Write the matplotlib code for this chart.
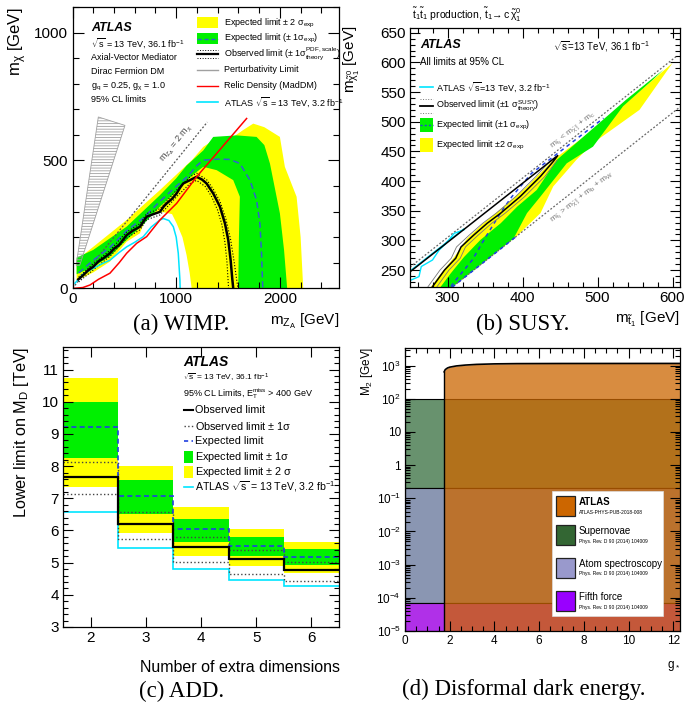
import matplotlib.pyplot as plt
from matplotlib.lines import Line2D
from matplotlib.patches import Rectangle, Polygon
from matplotlib.ticker import MultipleLocator, FixedLocator, NullFormatter

plt.rcParams['font.family'] = ['Liberation Sans', 'DejaVu Sans']
plt.rcParams['mathtext.fontset'] = 'custom'
plt.rcParams['mathtext.rm'] = 'Liberation Sans'
plt.rcParams['mathtext.it'] = 'Liberation Sans'
plt.rcParams['mathtext.bf'] = 'Liberation Sans:bold'
plt.rcParams['hatch.linewidth'] = 0.6

# ---------------- (a) WIMP, axial-vector mediator ----------------
obs_mz = [56, 100, 150, 200, 250, 300, 361, 400, 450, 522, 580, 651, 690, 715, 780, 843, 880, 908, 960, 1004,
          1040, 1068, 1133, 1197, 1250, 1293, 1357, 1422, 1470, 1502, 1525, 1540, 1550]
obs_mchi = [35, 50, 70, 84, 105, 118, 137, 155, 170, 208, 225, 241, 265, 280, 290, 299, 320, 332, 350, 371,
            395, 410, 423, 436, 425, 410, 371, 319, 254, 189, 110, 40, 0]
obsup_mz = [60, 200, 361, 522, 651, 715, 843, 1004, 1133, 1197, 1293, 1357, 1422, 1480, 1525, 1560, 1595]
obsup_mchi = [45, 95, 148, 220, 253, 292, 311, 384, 436, 450, 425, 388, 340, 270, 190, 100, 0]
obsdn_mz = [60, 200, 361, 522, 651, 715, 843, 1004, 1133, 1197, 1280, 1340, 1400, 1440, 1470, 1490, 1505]
obsdn_mchi = [25, 72, 125, 196, 229, 268, 287, 358, 410, 422, 398, 360, 305, 250, 180, 100, 0]
exp_mz = [60, 200, 361, 522, 683, 843, 1004, 1116, 1200, 1261, 1400, 1518, 1614, 1711, 1775, 1807, 1823, 1833, 1835]
exp_mchi = [60, 110, 160, 225, 275, 340, 400, 440, 480, 501, 505, 504, 488, 423, 345, 254, 137, 19, 0]
y2_mz = [40, 200, 522, 843, 1116, 1149, 1261, 1357, 1550, 1650, 1743, 1850, 2000, 2048, 2161, 2200, 2225,
         1149, 1130, 1100, 1060, 1004, 960, 870, 760, 700, 650, 522, 361, 200, 40]
y2_mchi = [110, 162, 267, 384, 488, 500, 553, 579, 592, 620, 644, 630, 592, 475, 358, 200, 0,
           0, 60, 130, 200, 254, 290, 298, 292, 265, 215, 182, 104, 62, 30]
g1_mz = [40, 200, 522, 843, 1000, 1100, 1261, 1357, 1583, 1775, 1850, 1904, 2000, 2040, 2070,
         1598, 1605, 1614, 1550, 1390, 1261, 1150, 1004, 843, 683, 522, 361, 200, 40]
g1_mchi = [120, 150, 241, 364, 430, 480, 539, 592, 598, 592, 560, 488, 293, 150, 0,
           0, 200, 358, 423, 462, 475, 440, 380, 319, 250, 189, 125, 84, 55]
old_mz = [24, 100, 200, 280, 361, 450, 522, 600, 683, 760, 843, 875, 930, 972, 1000, 1020, 1036, 1038]
old_mchi = [20, 55, 78, 95, 110, 140, 162, 180, 202, 240, 267, 273, 265, 241, 200, 137, 32, 0]
relic_mz = [20, 100, 169, 250, 361, 450, 522, 619, 715, 843, 1004, 1197, 1679]
relic_mchi = [0, 3, 13, 35, 59, 100, 137, 176, 202, 267, 332, 436, 664]
pert_mz = [35, 249, 506, 70]
pert_mchi = [90, 670, 637, 90]
diag_mz = [0, 1300]
diag_mchi = [0, 650]

# ---------------- (b) SUSY, stop -> c neutralino ----------------
b_y2_mt = [278, 291, 309, 326, 348, 375, 406, 441, 512, 600, 556, 494, 472, 441, 424, 393, 305, 270]
b_y2_mchi = [222, 244, 272, 303, 329, 357, 391, 436, 503, 599, 520, 464, 436, 391, 346, 308, 220, 185]
b_g1_mt = [291, 304, 322, 344, 371, 393, 419, 446, 538, 588, 574, 534, 494, 459, 424, 406, 388, 297, 280]
b_g1_mchi = [222, 244, 272, 301, 329, 357, 385, 436, 537, 588, 571, 526, 458, 430, 374, 346, 303, 212, 195]
b_exp_mt = [390, 300, 311, 333, 351, 373, 386, 412, 440, 508]
b_exp_mchi = [305, 215, 233, 267, 306, 351, 374, 413, 440, 506]
b_obs_mt = [250, 447, 441, 424, 397, 371, 353, 335, 318, 311, 296, 280, 275]
b_obs_mchi = [247, 443, 433, 408, 374, 346, 329, 309, 289, 270, 250, 222, 212]
b_obsup_mt = [274, 290, 305, 312, 329, 347, 365, 391, 418, 436, 444]
b_obsup_mchi = [222, 250, 270, 289, 309, 329, 346, 374, 408, 433, 441]
b_obsdn_mt = [286, 302, 317, 324, 341, 359, 377, 403, 430, 446]
b_obsdn_mchi = [222, 250, 270, 289, 309, 329, 346, 374, 408, 435]
b_old_mt = [250, 322, 322, 309, 298, 289, 280, 265, 262, 251, 250]
b_old_mchi = [248.5, 319.5, 318, 312, 295, 284, 267, 256, 239, 233, 233]
b_kin_hi_mt = [250, 605]
b_kin_hi_mchi = [255, 610]
b_kin_lo_mt = [300, 610]
b_kin_lo_mchi = [215, 525]

# ---------------- (c) ADD ----------------
n_extra = [2, 3, 4, 5, 6]
c_edges = [1.5, 2.5, 3.5, 4.5, 5.5, 6.5]
c_obs = [7.66, 6.2, 5.5, 5.1, 4.78]
c_obs_up = [8.12, 6.56, 5.8, 5.38, 5.03]
c_obs_dn = [7.12, 5.72, 5.03, 4.66, 4.44]
c_exp = [9.22, 7.06, 6.06, 5.53, 5.19]
c_exp1_up = [10.0, 7.56, 6.37, 5.81, 5.41]
c_exp1_dn = [8.25, 6.5, 5.65, 5.2, 4.94]
c_exp2_up = [10.75, 8.0, 6.72, 6.06, 5.63]
c_exp2_dn = [7.35, 5.93, 5.2, 4.88, 4.69]
c_old = [6.56, 5.47, 4.81, 4.47, 4.28]

# ---------------- (d) disformal dark energy ----------------
d_split = 1.75
d_xmax = 12.3
d_sn = [0.2, 100]
d_atom = [7.2e-5, 0.2]
d_fifth = [1e-5, 7.2e-5]
d_atlas_g = [1.75, 1.8, 1.9, 2.0, 2.3, 2.7, 3.2, 4.0, 5.0, 7.0, 12.3]
d_atlas_m = [650, 760, 850, 900, 980, 1040, 1090, 1130, 1150, 1160, 1165]
d_names = ['ATLAS', 'Supernovae', 'Atom spectroscopy', 'Fifth force']
d_refs = ['ATLAS-PHYS-PUB-2018-008', 'Phys. Rev. D 90 (2014) 104009',
          'Phys. Rev. D 90 (2014) 104009', 'Phys. Rev. D 90 (2014) 104009']
d_cols = ['#cc6600', '#336633', '#9999cc', '#9900ff']

W, H = 686, 708
fig = plt.figure(figsize=(W / 100, H / 100), dpi=100)


def box(l, t, r, b):
    return [l / W, 1 - b / H, (r - l) / W, (b - t) / H]


def fx(x):
    return x / W


def fy(y):
    return 1 - y / H


def fline(x0, x1, y, **kw):
    fig.add_artist(Line2D([fx(x0), fx(x1)], [fy(y), fy(y)], **kw))


def frect(x0, y0, x1, y1, **kw):
    fig.add_artist(Rectangle((fx(x0), fy(y1)), (x1 - x0) / W, (y1 - y0) / H,
                             transform=fig.transFigure, **kw))


def ftext(x, y, s, **kw):
    kw.setdefault('va', 'center')
    fig.text(fx(x), fy(y), s, **kw)


def root_ticks(ax, size=10, major=8, minor=4):
    ax.tick_params(which='both', direction='in', top=True, right=True, labelsize=size, width=0.8)
    ax.tick_params(which='major', length=major, pad=3)
    ax.tick_params(which='minor', length=minor)
    for s in ax.spines.values():
        s.set_linewidth(0.9)


# ======== panel (a) ========
axA = fig.add_axes(box(72.5, 7, 339, 288.3))
axA.fill(y2_mz, y2_mchi, color='#ffff00', lw=0)
axA.fill(g1_mz, g1_mchi, color='#00f000', lw=0)
axA.add_patch(Polygon(list(zip(pert_mz, pert_mchi)), closed=True, fill=False,
                      hatch='------', edgecolor='#a0a0a0', lw=0.6))
axA.plot(diag_mz, diag_mchi, color='#555555', ls=(0, (1.5, 1.5)), lw=0.9)
axA.plot(exp_mz, exp_mchi, color='#3060d0', ls=(0, (4, 2.5)), lw=1.1)
axA.plot(obsup_mz, obsup_mchi, color='k', ls=':', lw=0.8)
axA.plot(obsdn_mz, obsdn_mchi, color='k', ls=':', lw=0.8)
axA.plot(old_mz, old_mchi, color='#00e5ff', lw=1.1)
axA.plot(obs_mz, obs_mchi, color='k', lw=1.8)
axA.plot(relic_mz, relic_mchi, color='#ff0000', lw=1.1)
axA.text(1000, 567, r'm$_{Z_A}$ = 2 m$_\chi$', rotation=51, fontsize=6.5, color='#444444',
         ha='center', va='center')
axA.set_xlim(0, 2570)
axA.set_ylim(0, 1100)
axA.xaxis.set_major_locator(FixedLocator([0, 1000, 2000]))
axA.xaxis.set_minor_locator(MultipleLocator(200))
axA.yaxis.set_major_locator(FixedLocator([0, 500, 1000]))
axA.yaxis.set_minor_locator(MultipleLocator(100))
root_ticks(axA, size=11)

ftext(18, 8, r'm$_\chi$ [GeV]', rotation=90, ha='center', va='top', fontsize=12)
ftext(339, 321, r'm$_{Z_A}$ [GeV]', ha='right', fontsize=11)
ftext(91, 28, 'ATLAS', fontweight='bold', style='italic', fontsize=9)
ftext(91, 43, r'$\sqrt{s}$ = 13 TeV, 36.1 fb$^{-1}$', fontsize=6.5)
ftext(91, 57, 'Axial-Vector Mediator', fontsize=6.5)
ftext(91, 72, 'Dirac Fermion DM', fontsize=6.5)
ftext(91, 87, r'g$_q$ = 0.25, g$_\chi$ = 1.0', fontsize=6.5)
ftext(91, 100, '95% CL limits', fontsize=6.5)

frect(197, 17, 218, 28, color='#ffff00', lw=0)
ftext(224, 23, r'Expected limit $\pm$ 2 $\sigma_{\mathrm{exp}}$', fontsize=6.5)
frect(197, 33, 218, 44, color='#00f000', lw=0)
fline(197, 218, 38.5, color='#3060d0', ls=(0, (3, 2)), lw=1)
ftext(224, 38.5, r'Expected limit ($\pm$ 1$\sigma_{\mathrm{exp}}$)', fontsize=6.5)
fline(197, 218, 54, color='k', lw=1.6)
fline(197, 218, 50, color='k', ls=':', lw=0.7)
fline(197, 218, 58, color='k', ls=':', lw=0.7)
ftext(224, 54, r'Observed limit ($\pm$ 1$\sigma^{\mathrm{PDF,\,scale}}_{\mathrm{theory}}$)', fontsize=6.5)
fline(197, 218, 70, color='#a0a0a0', lw=1)
ftext(224, 70, 'Perturbativity Limit', fontsize=6.5)
fline(197, 218, 86, color='#ff0000', lw=1)
ftext(224, 86, 'Relic Density (MadDM)', fontsize=6.5)
fline(197, 218, 102, color='#00e5ff', lw=1.2)
ftext(224, 102, r'ATLAS $\sqrt{s}$ = 13 TeV, 3.2 fb$^{-1}$', fontsize=6.5)

# ======== panel (b) ========
axB = fig.add_axes(box(410, 28, 680, 286.7))
axB.fill(b_y2_mt, b_y2_mchi, color='#ffff00', lw=0)
axB.fill(b_g1_mt, b_g1_mchi, color='#00f000', lw=0)
axB.plot(b_kin_hi_mt, b_kin_hi_mchi, color='#666666', ls=(0, (1.5, 1.5)), lw=0.9)
axB.plot(b_kin_lo_mt, b_kin_lo_mchi, color='#666666', ls=(0, (1.5, 1.5)), lw=0.9)
axB.plot(b_exp_mt, b_exp_mchi, color='#2040e0', ls=(0, (2.5, 2.5)), lw=1.1)
axB.plot(b_obsup_mt, b_obsup_mchi, color='#777777', lw=0.6)
axB.plot(b_obsdn_mt, b_obsdn_mchi, color='#777777', lw=0.6)
axB.plot(b_old_mt, b_old_mchi, color='#00e5ff', lw=1.0)
axB.plot(b_obs_mt, b_obs_mchi, color='k', lw=1.1)
axB.text(467, 486, r'm$_{\tilde{t}_1}$ < m$_{\tilde{\chi}^0_1}$ + m$_c$', rotation=38, fontsize=6,
         color='#777777', ha='center', va='center')
axB.text(479, 372, r'm$_{\tilde{t}_1}$ > m$_{\tilde{\chi}^0_1}$ + m$_b$ + m$_W$', rotation=38, fontsize=6,
         color='#777777', ha='center', va='center')
axB.set_xlim(250, 610)
axB.set_ylim(222, 658)
axB.xaxis.set_major_locator(MultipleLocator(100))
axB.xaxis.set_minor_locator(MultipleLocator(20))
axB.yaxis.set_major_locator(MultipleLocator(50))
axB.yaxis.set_minor_locator(MultipleLocator(10))
root_ticks(axB, size=11, major=7, minor=3.5)

ftext(412, 15, r'$\tilde{t}_1\tilde{t}_1$ production, $\tilde{t}_1\!\rightarrow c\,\tilde{\chi}^0_1$', fontsize=7.5)
ftext(352, 26, r'm$_{\tilde{\chi}^0_1}$ [GeV]', rotation=90, ha='center', va='top', fontsize=11)
ftext(680, 319, r'm$_{\tilde{t}_1}$ [GeV]', ha='right', fontsize=11)
ftext(420, 45, 'ATLAS', fontweight='bold', style='italic', fontsize=9)
ftext(553, 47, r'$\sqrt{s}$=13 TeV, 36.1 fb$^{-1}$', fontsize=7)
ftext(420, 62, 'All limits at 95% CL', fontsize=7)
fline(420, 433, 87, color='#00e5ff', lw=1.2)
ftext(436, 87, r'ATLAS $\sqrt{s}$=13 TeV, 3.2 fb$^{-1}$', fontsize=6.5)
fline(420, 433, 106, color='k', lw=1.3)
fline(420, 433, 99, color='#777777', ls=':', lw=0.7)
fline(420, 433, 113, color='#777777', ls=':', lw=0.7)
ftext(436, 106, r'Observed limit ($\pm$1 $\sigma^{\mathrm{SUSY}}_{\mathrm{theory}}$)', fontsize=6.5)
frect(420, 118, 433, 132, color='#00f000', lw=0)
fline(420, 433, 125, color='#2040e0', ls=(0, (1.5, 1.5)), lw=1)
ftext(436, 125, r'Expected limit ($\pm$1 $\sigma_{\mathrm{exp}}$)', fontsize=6.5)
frect(420, 138, 433, 152, color='#ffff00', lw=0)
ftext(436, 145, r'Expected limit $\pm$2 $\sigma_{\mathrm{exp}}$', fontsize=6.5)

# ======== panel (c) ========
axC = fig.add_axes(box(63, 347, 339, 627))
axC.stairs(c_exp2_up, c_edges, baseline=c_exp2_dn, fill=True, color='#ffff00', lw=0)
axC.stairs(c_exp1_up, c_edges, baseline=c_exp1_dn, fill=True, color='#00f000', lw=0)
axC.stairs(c_old, c_edges, baseline=None, color='#00e5ff', lw=1.2)
axC.stairs(c_obs_up, c_edges, baseline=None, color='#444444', ls=':', lw=1.0)
axC.stairs(c_obs_dn, c_edges, baseline=None, color='#444444', ls=':', lw=1.0)
axC.stairs(c_exp, c_edges, baseline=None, color='#2040e0', ls=(0, (3, 2)), lw=1.2)
axC.stairs(c_obs, c_edges, baseline=None, color='k', lw=1.6)
axC.set_xlim(1.5, 6.5)
axC.set_ylim(3, 11.7)
axC.set_xticks(n_extra)
axC.yaxis.set_major_locator(MultipleLocator(1))
axC.yaxis.set_minor_locator(MultipleLocator(0.2))
root_ticks(axC, size=11, major=7, minor=3.5)

ftext(22, 347, r'Lower limit on M$_\mathrm{D}$ [TeV]', rotation=90, ha='center', va='top', fontsize=11.7)
ftext(340, 668, 'Number of extra dimensions', ha='right', fontsize=11.5)
ftext(183, 362, 'ATLAS', fontweight='bold', style='italic', fontsize=10)
ftext(183, 378, r'$\sqrt{s}$ = 13 TeV, 36.1 fb$^{-1}$', fontsize=6)
ftext(183, 394, r'95% CL Limits, E$_\mathrm{T}^\mathrm{miss}$ > 400 GeV', fontsize=6.5)
fline(184, 193, 410, color='k', lw=1.5)
ftext(195, 410, 'Observed limit', fontsize=7.8)
fline(184, 193, 426, color='#444444', ls=':', lw=1)
ftext(195, 426, r'Observed limit $\pm$ 1$\sigma$', fontsize=7.8)
fline(184, 193, 441, color='#2040e0', ls=(0, (2.5, 2)), lw=1.2)
ftext(195, 441, 'Expected limit', fontsize=7.8)
frect(184, 451, 193, 463, color='#00f000', lw=0)
ftext(195, 457, r'Expected limit $\pm$ 1$\sigma$', fontsize=7.8)
frect(184, 466, 193, 478, color='#ffff00', lw=0)
ftext(195, 472, r'Expected limit $\pm$ 2 $\sigma$', fontsize=7.8)
fline(184, 193, 487, color='#00e5ff', lw=1.2)
ftext(195, 487, r'ATLAS $\sqrt{s}$ = 13 TeV, 3.2 fb$^{-1}$', fontsize=7.6)

# ======== panel (d) ========
axD = fig.add_axes(box(405, 348, 680, 631))
axD.set_yscale('log')
axD.fill_between([0, d_xmax], d_sn[0], d_sn[1], color='#68926e', ec='k', lw=0.8)
axD.fill_between([0, d_xmax], d_atom[0], d_atom[1], color='#8a96b2', ec='k', lw=0.8)
axD.fill_between([0, d_xmax], d_fifth[0], d_fifth[1], color='#b030e8', ec='k', lw=0.8)
axD.fill_between(d_atlas_g, 1e-5, d_atlas_m, color='#cc6600', alpha=0.75, lw=0)
axD.plot(d_atlas_g, d_atlas_m, color='k', lw=1.2)
axD.plot([d_split, d_split], [1e-5, d_atlas_m[0]], color='k', lw=1.0)
axD.set_xlim(0, d_xmax)
axD.set_ylim(1e-5, 3.4e3)
axD.xaxis.set_major_locator(MultipleLocator(2))
axD.xaxis.set_minor_locator(MultipleLocator(0.5))
d_ticks = [1e-5, 1e-4, 1e-3, 1e-2, 1e-1, 1, 10, 1e2, 1e3]
axD.yaxis.set_major_locator(FixedLocator(d_ticks))
axD.set_yticklabels(['$10^{-5}$', '$10^{-4}$', '$10^{-3}$', '$10^{-2}$', '$10^{-1}$', '1', '10',
                     '$10^{2}$', '$10^{3}$'])
axD.yaxis.set_minor_locator(FixedLocator([m * 10.0 ** e for e in range(-5, 4) for m in range(2, 10)]))
axD.yaxis.set_minor_formatter(NullFormatter())
root_ticks(axD, size=8.5, major=7, minor=3.5)

ftext(367, 347, r'M$_2$ [GeV]', rotation=90, ha='center', va='top', fontsize=8.5)
ftext(674, 666, r'g$_*$', ha='center', fontsize=8.5)

frect(552, 491, 663, 616, facecolor='white', edgecolor='#dddddd', lw=0.5)
leg_rows = [(496, 516), (525, 545), (558, 578), (591, 611)]
for (t, b), name, ref, col in zip(leg_rows, d_names, d_refs, d_cols):
    frect(556, t, 575, b, facecolor=col, edgecolor='#222222', lw=0.9)
    ftext(579, t + 6, name, fontsize=7, fontweight='bold' if name == 'ATLAS' else 'normal')
    ftext(579, t + 16, ref, fontsize=3.5)

# ======== captions ========
cap = dict(family=['Liberation Serif', 'DejaVu Serif'], fontsize=16.5, ha='center')
ftext(181, 324, '(a) WIMP.', **cap)
ftext(523, 324, '(b) SUSY.', **cap)
ftext(182, 691, '(c) ADD.', **cap)
ftext(524, 689, '(d) Disformal dark energy.', **cap)

fig.savefig('out.png', dpi=100)
